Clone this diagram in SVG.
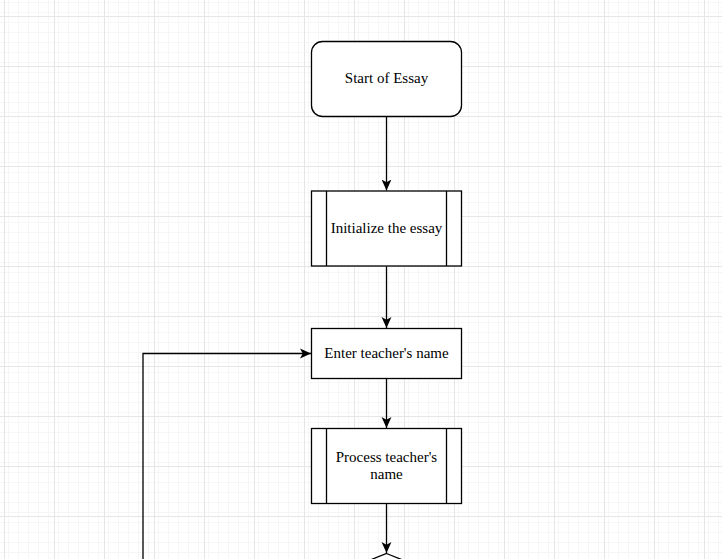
<svg xmlns="http://www.w3.org/2000/svg" width="722" height="559" viewBox="0 0 722 559">
  <defs>
    <pattern id="minor" x="4" y="6" width="10" height="10" patternUnits="userSpaceOnUse">
      <path d="M0.5 0V10M0 0.5H10" fill="none" stroke="#f6f6f6" stroke-width="1"/>
    </pattern>
    <pattern id="major" x="4" y="16" width="50" height="50" patternUnits="userSpaceOnUse">
      <rect width="50" height="50" fill="url(#minor)"/>
      <path d="M0.5 0V50M0 0.5H50" fill="none" stroke="#e6e6e6" stroke-width="1"/>
    </pattern>
    <marker id="arrow" viewBox="0 0 10 10" refX="10" refY="5" markerWidth="11" markerHeight="11" markerUnits="userSpaceOnUse" orient="auto">
      <path d="M0 0.5L10 5L0 9.5L2.5 5Z" fill="#000"/>
    </marker>
    <style>
      .shape { fill: #fff; stroke: #000; stroke-width: 1.3; }
      .inner { fill: none; stroke: #000; stroke-width: 1.3; }
      .edge { fill: none; stroke: #000; stroke-width: 1.3; marker-end: url(#arrow); }
      .label { font-family: "Liberation Serif", "Times New Roman", serif; font-size: 15px; fill: #000; text-anchor: middle; }
    </style>
  </defs>
  <rect width="722" height="559" fill="#fff"/>
  <rect width="722" height="559" fill="url(#major)"/>

  <g id="connectors">
    <path class="edge" d="M386.5 116.5V190.5"/>
    <path class="edge" d="M386.5 266.5V328"/>
    <path class="edge" d="M386.5 378.5V428"/>
    <path class="edge" d="M386.5 503.5V553"/>
    <path class="edge" d="M143 559V353.5H311"/>
  </g>

  <g id="start">
    <rect class="shape" x="311.5" y="41.5" width="150" height="75" rx="11" ry="11"/>
    <text class="label" x="386.5" y="82.5">Start of Essay</text>
  </g>

  <g id="initialize">
    <rect class="shape" x="311.5" y="191" width="150" height="75"/>
    <path class="inner" d="M326.5 191V266M446.5 191V266"/>
    <text class="label" x="386.5" y="232.5">Initialize the essay</text>
  </g>

  <g id="enter-name">
    <rect class="shape" x="311.5" y="328.5" width="150" height="50"/>
    <text class="label" x="386.5" y="357.5">Enter teacher's name</text>
  </g>

  <g id="process-name">
    <rect class="shape" x="311.5" y="428.5" width="150" height="75"/>
    <path class="inner" d="M326.5 428.5V503.5M446.5 428.5V503.5"/>
    <text class="label" x="386.5" y="461.5">Process teacher's</text>
    <text class="label" x="386.5" y="479">name</text>
  </g>

  <g id="decision">
    <polygon class="shape" points="386.5,553.5 461.5,583.5 386.5,613.5 311.5,583.5"/>
  </g>
</svg>
